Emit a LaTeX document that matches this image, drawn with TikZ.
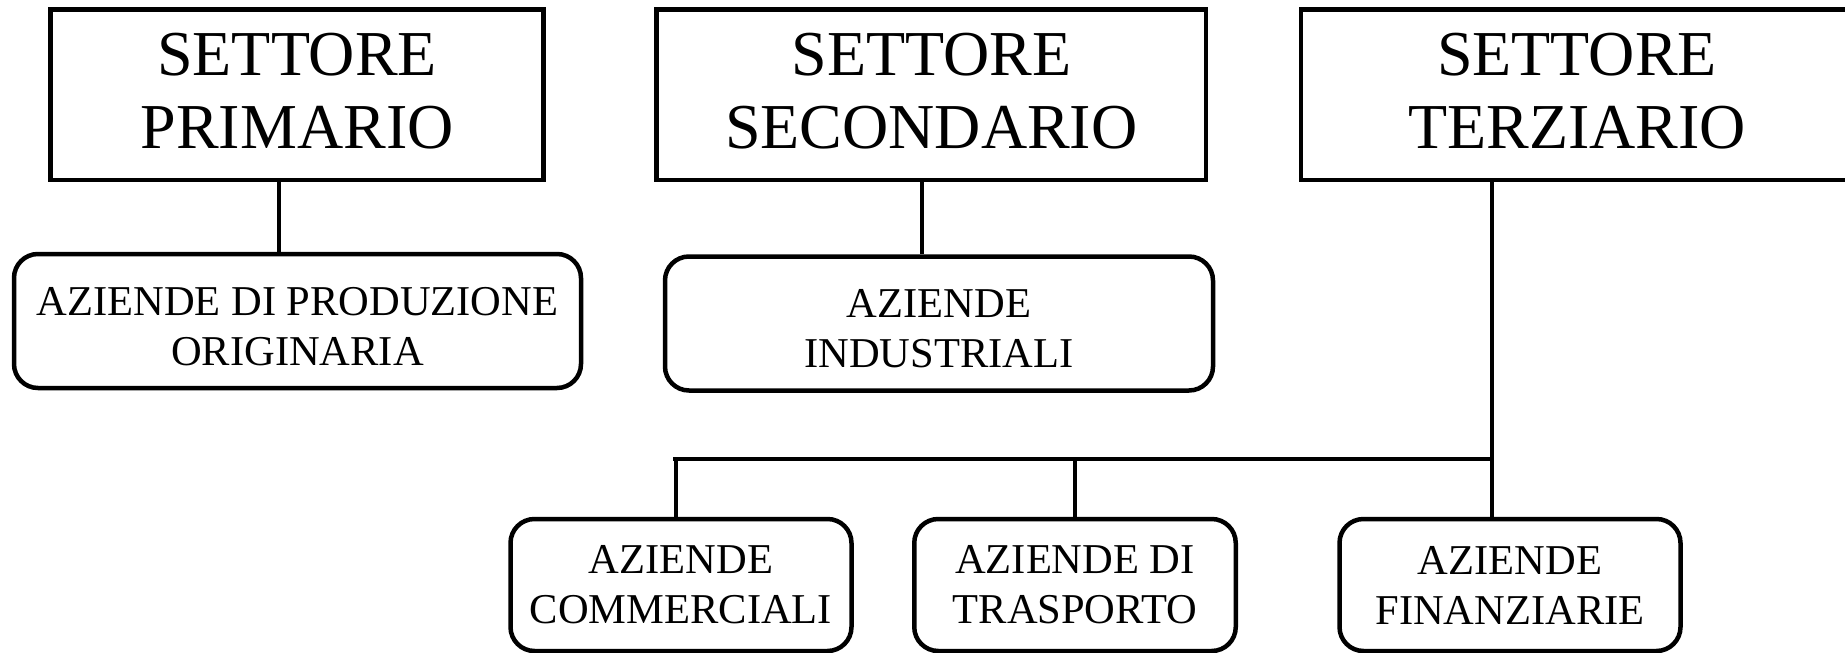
\documentclass[tikz,border=0pt]{standalone}
\usepackage{fontspec}
\setmainfont{Liberation Serif}
\newcommand{\lowpad}{\rule[-8pt]{0pt}{8pt}}
\newcommand{\toppad}{\rule{0pt}{39pt}}
\begin{document}
\begin{tikzpicture}[x=1pt,y=-1pt,
  sector/.style={draw, line width=4.5pt, rectangle, align=center, inner sep=0pt,
    minimum height=170.6pt, font=\fontsize{64}{73.3}\selectfont},
  firm/.style={draw, line width=4.5pt, rectangle, rounded corners=24pt, align=center,
    inner sep=0pt, font=\fontsize{42.5}{50}\selectfont},
  link/.style={line width=4.2pt}]
\clip (0,0) rectangle (1845,653);
\fill[white] (0,0) rectangle (1845,653);
% sector boxes
\node[sector, minimum width=493pt] (prim) at (297.1,94.7) {SETTORE\\PRIMARIO\lowpad};
\node[sector, minimum width=549.4pt] (sec) at (931.3,94.7) {SETTORE\\SECONDARIO\lowpad};
\node[sector, minimum width=552pt] (ter) at (1577,94.7) {SETTORE\\TERZIARIO\lowpad};
% firm boxes
\node[firm, minimum width=567pt, minimum height=134pt] (aprod) at (297.5,321) {\toppad AZIENDE DI PRODUZIONE\\ORIGINARIA};
\node[firm, minimum width=548pt, minimum height=134pt] (aind) at (939,323.5) {\toppad AZIENDE\\INDUSTRIALI};
\node[firm, minimum width=341pt, minimum height=132pt] (acomm) at (681,585) {AZIENDE\\COMMERCIALI};
\node[firm, minimum width=321.5pt, minimum height=132pt] (atrasp) at (1075,585) {AZIENDE DI\\TRASPORTO};
\node[firm, minimum width=341pt, minimum height=132pt] (afin) at (1510,585) {AZIENDE\\FINANZIARIE};
% connectors
\coordinate (pj) at ([xshift=-18pt]prim.south);
\coordinate (sj) at ([xshift=-9pt]sec.south);
\coordinate (tj) at ([xshift=-85pt]ter.south);
\coordinate (barL) at (673,459);
\draw[link] (pj) -- (pj |- aprod.north);
\draw[link] (sj) -- (sj |- aind.north);
\draw[link] (tj) -- (tj |- afin.north);
\draw[link] (barL) -- ([xshift=2pt]barL -| tj);
\draw[link] ([xshift=-5pt]acomm.north) -- ([xshift=-5pt]acomm.north |- barL);
\draw[link] (atrasp.north) -- (atrasp.north |- barL);
\end{tikzpicture}
\end{document}
